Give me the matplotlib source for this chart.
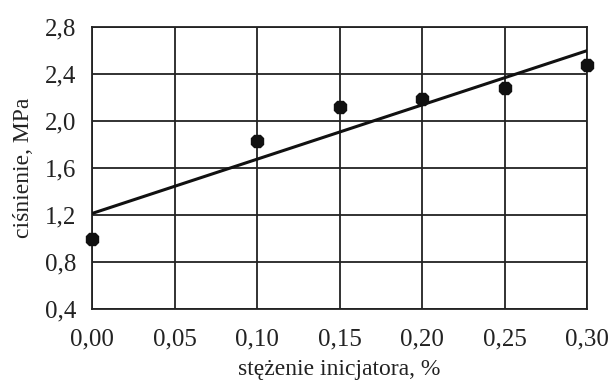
import numpy as np
import matplotlib.pyplot as plt

plt.rcParams['font.family'] = ['Liberation Serif', 'DejaVu Serif']

# Measured pressure vs initiator concentration
stezenie = [0.00, 0.10, 0.15, 0.20, 0.25, 0.30]
cisnienie = [1.00, 1.83, 2.12, 2.19, 2.28, 2.48]
x_ticks = [0.00, 0.05, 0.10, 0.15, 0.20, 0.25, 0.30]
y_ticks = [0.4, 0.8, 1.2, 1.6, 2.0, 2.4, 2.8]

# Linear trend line
a, b = np.polyfit(stezenie, cisnienie, 1)
x_fit = np.array([0.0, 0.30])

fig = plt.figure(figsize=(6.13, 3.81), dpi=100)
ax = fig.add_axes([0.150, 0.189, 0.808, 0.740])

ax.plot(x_fit, a * x_fit + b, color='#111111', lw=2.2, zorder=3)
ax.plot(stezenie, cisnienie, '8', color='#111111', ms=10, zorder=4, clip_on=False)

ax.set_xlim(0, 0.30)
ax.set_ylim(0.4, 2.8)
ax.set_xticks(x_ticks)
ax.set_yticks(y_ticks)
ax.set_xticklabels([f'{v:.2f}'.replace('.', ',') for v in x_ticks])
ax.set_yticklabels([f'{v:.1f}'.replace('.', ',') for v in y_ticks])
ax.tick_params(length=0, labelsize=18, colors='#222222')
ax.tick_params(axis='x', pad=14)
ax.tick_params(axis='y', pad=11)
ax.grid(True, color='#222222', lw=1.3)
for s in ax.spines.values():
    s.set_color('#222222')
    s.set_linewidth(1.3)

ax.set_xlabel('stężenie inicjatora, %', fontsize=17, color='#222222', labelpad=6)
ax.set_ylabel('ciśnienie, MPa', fontsize=17, color='#222222', labelpad=8)

fig.savefig('out.png', dpi=100)
